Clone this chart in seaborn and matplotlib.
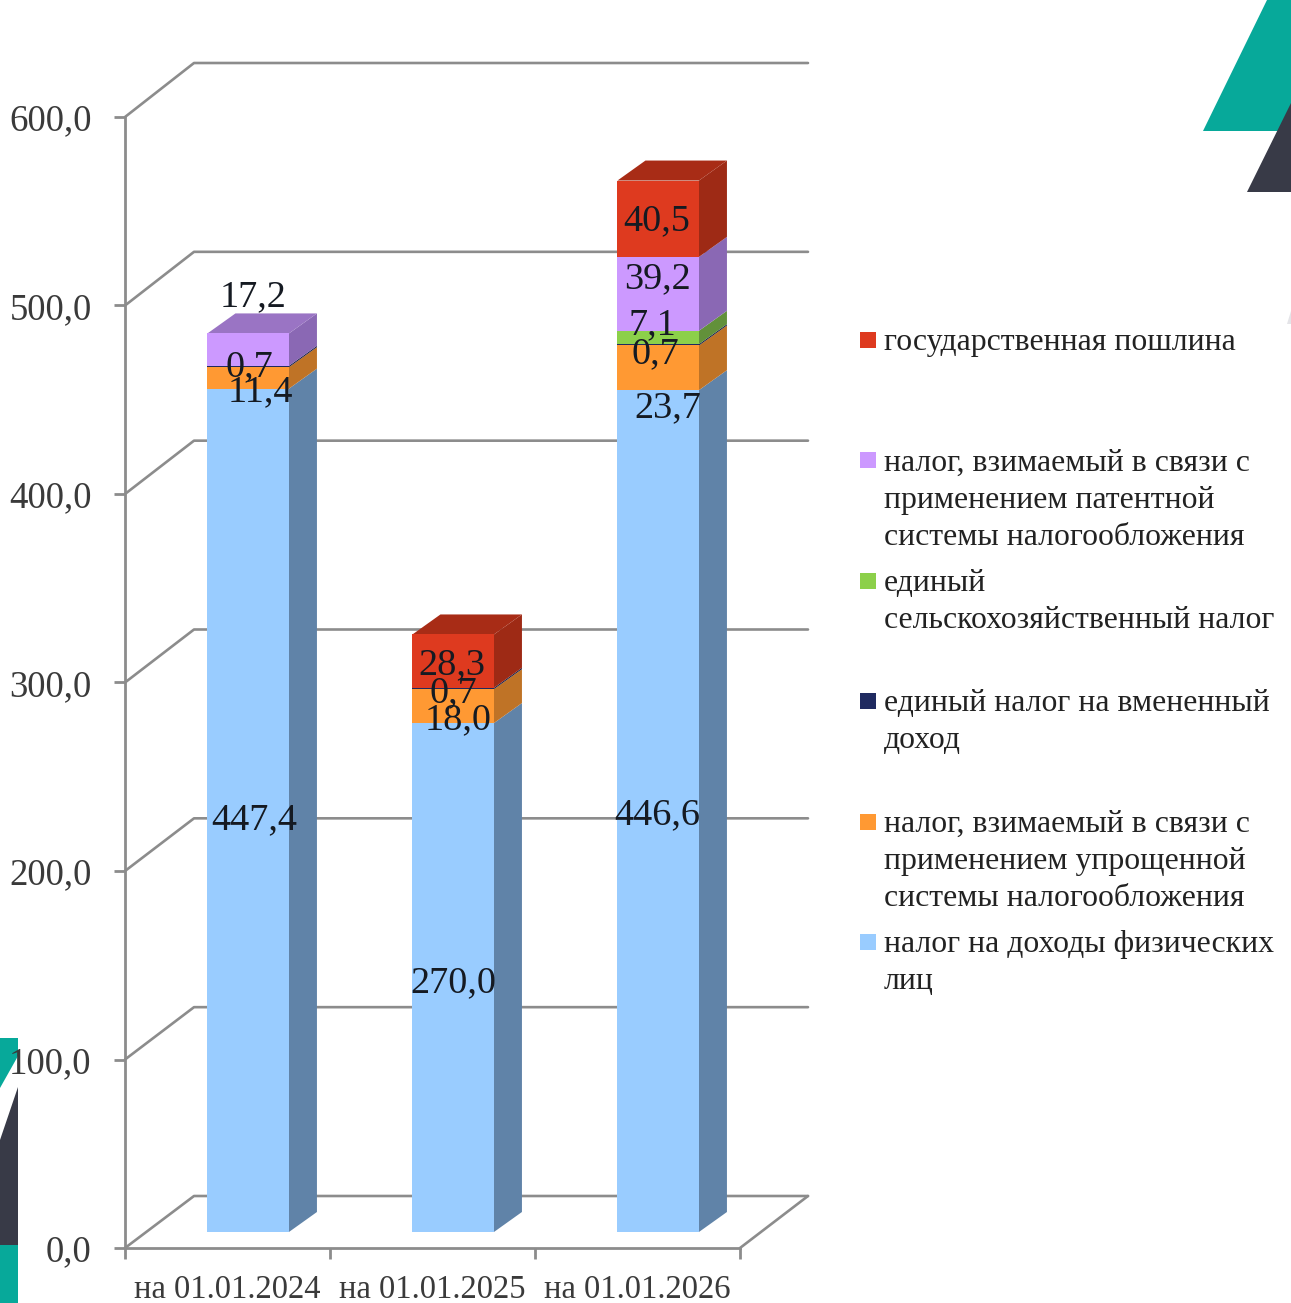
import matplotlib
matplotlib.use("Agg")
import matplotlib.pyplot as plt
from matplotlib.patches import Polygon, Rectangle
from matplotlib.ticker import FuncFormatter
import numpy as np
import pandas as pd
import seaborn as sns

periods = ["на 01.01.2024", "на 01.01.2025", "на 01.01.2026"]
ndfl = [447.4, 270.0, 446.6]
usn = [11.4, 18.0, 23.7]
envd = [0.7, 0.7, 0.7]
eshn = [0.0, 0.0, 7.1]
patent = [17.2, 0.0, 39.2]
gosposhl = [0.0, 28.3, 40.5]
y_ticks = [0, 100, 200, 300, 400, 500, 600]

names = [
    "налог на доходы физических\nлиц",
    "налог, взимаемый в связи с\nприменением упрощенной\nсистемы налогообложения",
    "единый налог на вмененный\nдоход",
    "единый\nсельскохозяйственный налог",
    "налог, взимаемый в связи с\nприменением патентной\nсистемы налогообложения",
    "государственная пошлина",
]
series = [ndfl, usn, envd, eshn, patent, gosposhl]
face = ["#99CCFF", "#FF9933", "#1F2A60", "#8CD04A", "#CC99FF", "#DE3A1F"]
side = ["#6083A8", "#BF7326", "#161D45", "#62913A", "#8A68B4", "#9E2A15"]
cap = ["#6B93BC", "#C87A2A", "#161D45", "#6FA03F", "#9A74C4", "#A82C16"]

# label offsets in pixels (dx, dy downward) per series, per bar
label_off = {
    0: [(6, 10), (0, 5), (-1, 4)],
    1: [(12, 14), (5, 14), (10, 40)],
    2: [(1, 0), (0, 4), (-3, 9)],
    3: [None, None, (-6, -13)],
    4: [(5, -53), None, (-1, -15)],
    5: [None, (-1, 4), (-2, 2)],
}

W, H = 1291, 1303
FONT = "Liberation Serif"
plt.rcParams["font.family"] = [FONT, "DejaVu Sans"]
sns.set_style("white")
plt.rcParams["font.family"] = [FONT, "DejaVu Sans"]

fig = plt.figure(figsize=(W / 100, H / 100), dpi=100, facecolor="white")


def fpts(pts):
    return [(x / W, 1 - y / H) for x, y in pts]


TEAL, DARK = "#07A99A", "#383A47"
for pts, c in [
    ([(1203, 131), (1267, 0), (1291, 0), (1291, 131)], TEAL),
    ([(1247, 192), (1291, 103), (1291, 192)], DARK),
    ([(0, 1038), (18, 1038), (18, 1056), (0, 1088)], TEAL),
    ([(0, 1140), (18, 1087), (18, 1245), (0, 1245)], DARK),
    ([(0, 1245), (18, 1245), (18, 1303), (0, 1303)], TEAL),
    ([(1291, 311), (1291, 324), (1287, 324)], "#E4E4E8"),
]:
    fig.add_artist(Polygon(fpts(pts), closed=True, fc=c, ec="none", transform=fig.transFigure, zorder=-5))

# front plane axes: real scale, spines and ticks
L, B, AW, AH = 125, 1248, 615, 1131
ax = fig.add_axes([L / W, 1 - B / H, AW / W, AH / H])
ax.patch.set_visible(False)
ax.set_xlim(-0.5, 2.5)
ax.set_ylim(0, 600)
GRID = "#8C8C8C"
for s in ["top", "right"]:
    ax.spines[s].set_visible(False)
for s in ["left", "bottom"]:
    ax.spines[s].set_color(GRID)
    ax.spines[s].set_linewidth(2)
ax.set_yticks(y_ticks)
ax.yaxis.set_major_formatter(FuncFormatter(lambda v, p: f"{v:.1f}".replace(".", ",")))
ax.set_xticks(range(3))
ax.set_xticklabels(periods)
ax.set_xticks([-0.5, 0.5, 1.5, 2.5], minor=True)
ax.tick_params(axis="y", length=8, width=2, color=GRID, labelsize=26.5, labelcolor="#3A3A3A", pad=16, left=True)
ax.tick_params(axis="x", which="major", length=0, labelsize=23.5, labelcolor="#3A3A3A", pad=19, bottom=False)
ax.tick_params(axis="x", which="minor", length=8, width=2, color=GRID, bottom=True)

px_x = AW / 3  # px per category
px_y = AH / 600  # px per unit
back_dx, back_dy = 69 / px_x, 52 / px_y
back_scale = 1133 / 1131
for v in y_ticks:
    ax.plot([-0.5, -0.5 + back_dx, 2.5 + back_dx - 1 / px_x],
            [v, v * back_scale + back_dy, v * back_scale + back_dy], color=GRID, lw=1.9, clip_on=False, zorder=1)
ax.plot([2.5, 2.5 + back_dx - 1 / px_x], [0, back_dy], color=GRID, lw=1.9, clip_on=False, zorder=1)

# bar plane axes, shifted in depth from the front plane
SX, SY = 20.7, 16
bx = fig.add_axes([(L + SX) / W, 1 - (B - SY) / H, AW / W, AH / H])
bx.patch.set_visible(False)

df = pd.DataFrame({"period": periods})
WIDTH = 81.5 / px_x
bottom = np.zeros(3)
tops = []
for vals, c in zip(series, face):
    df["value"] = vals
    sns.barplot(data=df, x="period", y="value", color=c, saturation=1, width=WIDTH,
                bottom=bottom.copy(), errorbar=None, ax=bx, zorder=4, linewidth=0)
    tops.append((bottom.copy(), bottom + np.array(vals)))
    bottom = bottom + np.array(vals)

bx.set_xlim(-0.5, 2.5)
bx.set_ylim(0, 600)
bx.axis("off")

ddx, ddy = 28 / px_x, 20 / px_y
for i in range(3):
    xr = i + WIDTH / 2
    xl = i - WIDTH / 2
    last = max(k for k in range(len(series)) if series[k][i] > 0)
    for k, (lo, hi) in enumerate(tops):
        if series[k][i] <= 0:
            continue
        b, t = lo[i], hi[i]
        bx.add_patch(Polygon([(xr, b), (xr + ddx, b + ddy), (xr + ddx, t + ddy), (xr, t)],
                             closed=True, fc=side[k], ec="none", zorder=3, clip_on=False))
        off = label_off[k][i]
        text = f"{series[k][i]:.1f}".replace(".", ",")
        bx.annotate(text, (i, (b + t) / 2), xytext=(off[0] * 0.72, -off[1] * 0.72), textcoords="offset points",
                    ha="center", va="center", fontsize=27.5, color="#151A22", zorder=10, annotation_clip=False)
        if k == last:
            bx.add_patch(Polygon([(xl, t), (xl + ddx, t + ddy), (xr + ddx, t + ddy), (xr, t)],
                                 closed=True, fc=cap[k], ec="none", zorder=3, clip_on=False))

# legend
first = 340
step = 120.4
order = list(range(len(names)))[::-1]
for n, k in enumerate(order):
    yc = first + n * step
    fig.add_artist(Rectangle((860 / W, 1 - (yc + 8) / H), 16 / W, 16 / H, fc=face[k], ec="none",
                             transform=fig.transFigure, zorder=5))
    fig.text(884 / W, 1 - (yc - 12) / H, names[k], fontsize=22.9, color="#222222", ha="left", va="top",
             linespacing=1.37, zorder=6)

fig.savefig("out.png", dpi=100, facecolor="white")
